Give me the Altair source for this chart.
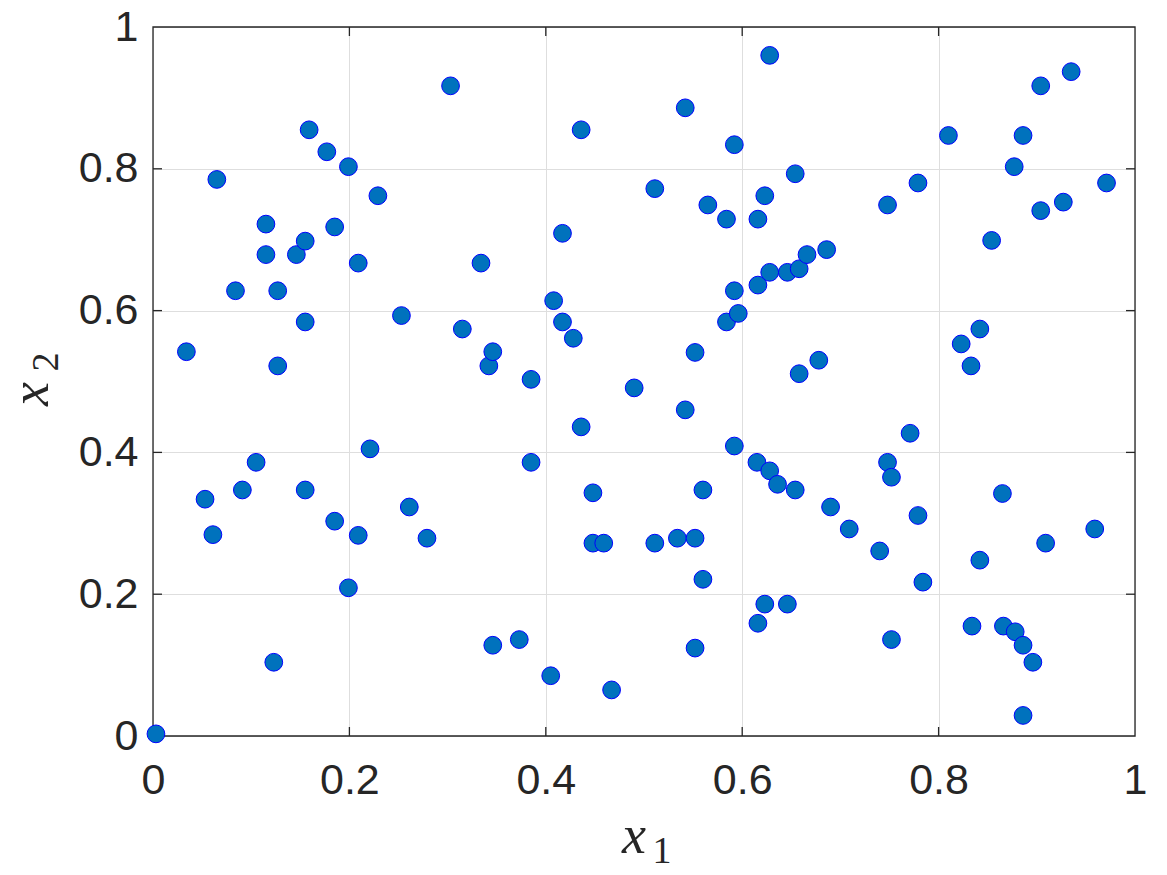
import altair as alt
import pandas as pd

# x1 / x2 coordinates of the sample points
x1_vals = [0.003, 0.034, 0.053, 0.061, 0.065, 0.084, 0.091, 0.105, 0.115, 0.115,
           0.123, 0.127, 0.127, 0.146, 0.155, 0.155, 0.155, 0.159, 0.177, 0.185,
           0.185, 0.199, 0.199, 0.209, 0.209, 0.221, 0.229, 0.253, 0.261, 0.279,
           0.303, 0.315, 0.334, 0.342, 0.346, 0.346, 0.373, 0.385, 0.385, 0.405,
           0.408, 0.417, 0.417, 0.428, 0.436, 0.436, 0.448, 0.448, 0.459, 0.467,
           0.490, 0.511, 0.511, 0.534, 0.542, 0.542, 0.552, 0.552, 0.552, 0.560,
           0.560, 0.565, 0.584, 0.584, 0.592, 0.592, 0.596, 0.592, 0.616, 0.616,
           0.623, 0.628, 0.628, 0.615, 0.628, 0.636, 0.623, 0.616, 0.646, 0.646,
           0.654, 0.658, 0.666, 0.658, 0.654, 0.686, 0.678, 0.690, 0.709, 0.740,
           0.748, 0.748, 0.752, 0.752, 0.771, 0.779, 0.779, 0.784, 0.810, 0.823,
           0.833, 0.842, 0.842, 0.834, 0.854, 0.865, 0.866, 0.877, 0.886, 0.878,
           0.886, 0.886, 0.896, 0.904, 0.904, 0.909, 0.927, 0.935, 0.959, 0.971]
x2_vals = [0.003, 0.542, 0.334, 0.284, 0.785, 0.628, 0.347, 0.386, 0.722, 0.679,
           0.104, 0.628, 0.522, 0.679, 0.698, 0.584, 0.347, 0.855, 0.824, 0.718,
           0.303, 0.803, 0.209, 0.667, 0.283, 0.405, 0.762, 0.593, 0.323, 0.279,
           0.917, 0.574, 0.667, 0.522, 0.542, 0.128, 0.136, 0.503, 0.386, 0.085,
           0.614, 0.709, 0.584, 0.561, 0.855, 0.436, 0.343, 0.272, 0.272, 0.065,
           0.491, 0.772, 0.272, 0.279, 0.886, 0.460, 0.541, 0.279, 0.124, 0.221,
           0.347, 0.749, 0.729, 0.584, 0.834, 0.628, 0.596, 0.409, 0.729, 0.636,
           0.762, 0.960, 0.654, 0.386, 0.374, 0.355, 0.186, 0.159, 0.654, 0.186,
           0.793, 0.659, 0.679, 0.511, 0.347, 0.686, 0.530, 0.323, 0.292, 0.261,
           0.749, 0.386, 0.365, 0.136, 0.427, 0.780, 0.311, 0.217, 0.847, 0.553,
           0.522, 0.574, 0.248, 0.155, 0.699, 0.342, 0.155, 0.803, 0.847, 0.147,
           0.128, 0.029, 0.104, 0.917, 0.741, 0.272, 0.753, 0.937, 0.292, 0.780]

tick_vals = [0.2, 0.4, 0.6, 0.8]
tick_labels = ["0", "0.2", "0.4", "0.6", "0.8", "1"]

W, H = 982, 709
AX = "#262626"
LABEL_FONT = "Liberation Sans"
MATH_FONT = "Liberation Serif"

pts = pd.DataFrame({"x1": x1_vals, "x2": x2_vals})
ticks = pd.DataFrame({"t": tick_vals})

xscale = alt.Scale(domain=[0, 1], nice=False, zero=False)
yscale = alt.Scale(domain=[0, 1], nice=False, zero=False)

lab_expr = "datum.value == 0 ? '0' : datum.value == 1 ? '1' : format(datum.value, '.1f')"
xaxis = alt.Axis(values=[0, 0.2, 0.4, 0.6, 0.8, 1], labelExpr=lab_expr,
                 grid=True, gridColor="#DEDEDE", gridWidth=1, domain=False, ticks=False, tickSize=0,
                 labelFont=LABEL_FONT, labelFontSize=43, labelColor=AX, labelPadding=23,
                 labelFlush=False, labelOverlap=False, title=None)
yaxis = alt.Axis(values=[0, 0.2, 0.4, 0.6, 0.8, 1], labelExpr=lab_expr,
                 grid=True, gridColor="#DEDEDE", gridWidth=1, domain=False, ticks=False, tickSize=0,
                 labelFont=LABEL_FONT, labelFontSize=43, labelColor=AX, labelPadding=15,
                 labelFlush=False, labelOverlap=False, title=None)

points = alt.Chart(pts).mark_circle(
    size=315, fill="#0072BD", stroke="#0000FF", strokeWidth=1, opacity=1, fillOpacity=1, clip=False
).encode(
    x=alt.X("x1:Q", scale=xscale, axis=xaxis),
    y=alt.Y("x2:Q", scale=yscale, axis=yaxis),
)

tl = 9
tick_bottom = alt.Chart(ticks).mark_rule(color=AX, strokeWidth=1.3).encode(
    x=alt.X("t:Q", scale=xscale), y=alt.value(H), y2=alt.value(H - tl))
tick_top = alt.Chart(ticks).mark_rule(color=AX, strokeWidth=1.3).encode(
    x=alt.X("t:Q", scale=xscale), y=alt.value(0), y2=alt.value(tl))
tick_left = alt.Chart(ticks).mark_rule(color=AX, strokeWidth=1.3).encode(
    y=alt.Y("t:Q", scale=yscale), x=alt.value(0), x2=alt.value(tl))
tick_right = alt.Chart(ticks).mark_rule(color=AX, strokeWidth=1.3).encode(
    y=alt.Y("t:Q", scale=yscale), x=alt.value(W), x2=alt.value(W - tl))

frame = alt.Chart(pd.DataFrame({"a": [0]})).mark_rect(
    fill=None, stroke=AX, strokeWidth=1.3, fillOpacity=0
).encode(x=alt.value(0), x2=alt.value(W), y=alt.value(0), y2=alt.value(H))

def txt(s, x, y, size, angle=0):
    return alt.Chart(pd.DataFrame({"s": [s]})).mark_text(
        font=MATH_FONT, fontStyle="italic" if s == "x" else "normal", fontSize=size,
        color=AX, align="center", baseline="alphabetic", angle=angle
    ).encode(text="s:N", x=alt.value(x), y=alt.value(y))

# x-axis title  x_1
t_x1a = txt("x", 634 - 153, 853 - 27, 54)
t_x1b = txt("1", 662 - 153, 863 - 27, 38)
# y-axis title  x_2 (rotated)
t_x2a = txt("x", 48 - 153, 394 - 27, 54, angle=270)
t_x2b = txt("2", 58 - 153, 362 - 27, 38, angle=270)

chart = alt.layer(
    frame, tick_bottom, tick_top, tick_left, tick_right, points,
    t_x1a, t_x1b, t_x2a, t_x2b
).properties(
    width=W, height=H,
    autosize=alt.AutoSizeParams(type="none"),
    padding={"left": 145, "top": 19, "right": 24, "bottom": 131},
).configure_view(stroke=None)

chart.save("out.html", embed_options={"renderer": "svg", "actions": False})
